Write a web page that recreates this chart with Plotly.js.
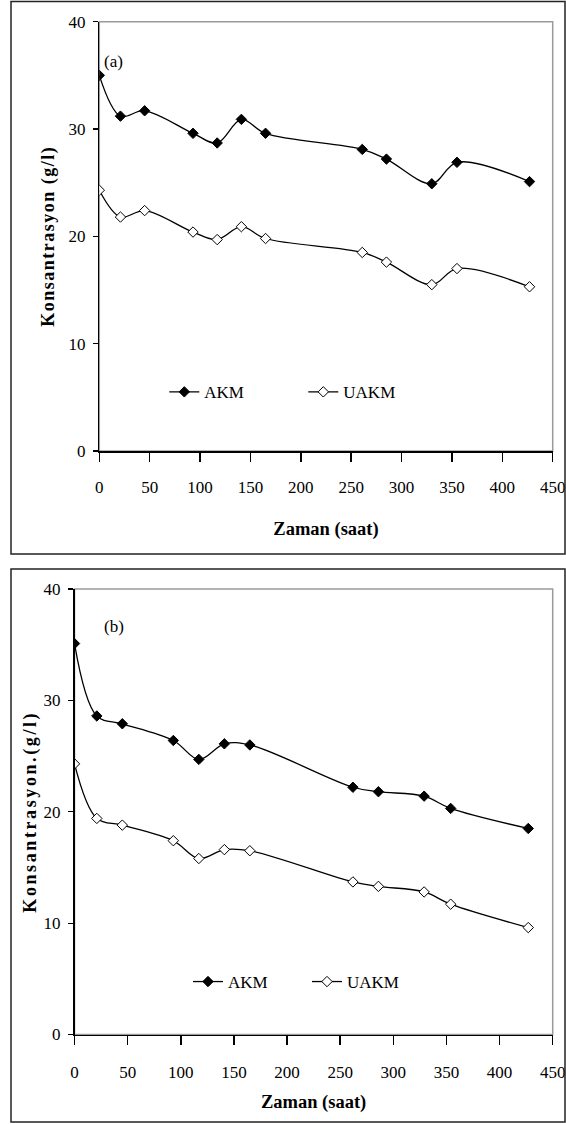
<!DOCTYPE html>
<html>
<head>
<meta charset="utf-8">
<script src="https://cdn.plot.ly/plotly-3.0.1.min.js"></script>
<style>
  html, body { margin: 0; padding: 0; background: #fff; }
  #chart { width: 566px; height: 1124px; }
  .ytitle { letter-spacing: 1.5px; }
  .y2title { letter-spacing: 2.6px; }
</style>
</head>
<body>
<div id="chart"></div>
<script>
// ---- data ----
var hoursA = [0, 21, 45, 93, 117, 141, 165, 261, 285, 330, 355, 427];
var akmA   = [35.0, 31.2, 31.7, 29.6, 28.7, 30.9, 29.6, 28.1, 27.2, 24.9, 26.9, 25.1];
var uakmA  = [24.3, 21.8, 22.4, 20.4, 19.7, 20.9, 19.8, 18.5, 17.6, 15.5, 17.0, 15.3];

var hoursB = [0, 21, 45, 93, 117, 141, 165, 262, 286, 329, 354, 427];
var akmB   = [35.1, 28.6, 27.9, 26.4, 24.7, 26.1, 26.0, 22.2, 21.8, 21.4, 20.3, 18.5];
var uakmB  = [24.3, 19.4, 18.8, 17.4, 15.8, 16.6, 16.5, 13.7, 13.3, 12.8, 11.7, 9.6];

var seriesNames = ['AKM', 'UAKM'];
var panelLabels = ['(a)', '(b)'];
var xTitle = 'Zaman (saat)';
var yTitleA = 'Konsantrasyon (g/l)';
var yTitleB = 'Konsantrasyon.(g/l)';

// ---- styling ----
var W = 566, H = 1124;
var serif = 'Liberation Serif';
function px(x) { return x / W; }
function py(y) { return 1 - y / H; }

var lineStyle = { color: '#000', width: 1.3, shape: 'spline', smoothing: 1 };
var filledMarker = { symbol: 'diamond', size: 8, color: '#000', line: { color: '#000', width: 1 } };
var openMarker = { symbol: 'diamond', size: 8, color: '#fff', line: { color: '#000', width: 1 } };

var traces = [
  { x: hoursA, y: akmA, name: seriesNames[0], mode: 'lines+markers', line: lineStyle, marker: filledMarker,
    xaxis: 'x', yaxis: 'y', legend: 'legend' },
  { x: hoursA, y: uakmA, name: seriesNames[1], mode: 'lines+markers', line: lineStyle, marker: openMarker,
    xaxis: 'x', yaxis: 'y', legend: 'legend' },
  { x: hoursB, y: akmB, name: seriesNames[0], mode: 'lines+markers', line: lineStyle, marker: filledMarker,
    xaxis: 'x2', yaxis: 'y2', legend: 'legend2' },
  { x: hoursB, y: uakmB, name: seriesNames[1], mode: 'lines+markers', line: lineStyle, marker: openMarker,
    xaxis: 'x2', yaxis: 'y2', legend: 'legend2' }
];

function xAxis(domain, anchor, standoffLabels, standoffTitle) {
  return {
    domain: domain, anchor: anchor, range: [0, 450], dtick: 50, tick0: 0,
    showgrid: false, zeroline: false, showline: true, linecolor: '#000', linewidth: 1.5,
    ticks: 'outside', ticklen: 9, tickwidth: 1.5, tickcolor: '#000',
    ticklabelstandoff: standoffLabels,
    tickfont: { family: serif, size: 17, color: '#000' },
    title: { text: xTitle, standoff: standoffTitle, font: { family: serif, size: 18.5, color: '#000', weight: 'bold' } },
    fixedrange: true
  };
}
function yAxis(domain, anchor, title, standoffTitle) {
  return {
    domain: domain, anchor: anchor, range: [0, 40], dtick: 10, tick0: 0,
    showgrid: false, zeroline: false, showline: true, linecolor: '#000', linewidth: 1.5,
    ticks: 'outside', ticklen: 5, tickwidth: 1.2, tickcolor: '#000',
    ticklabelstandoff: 4,
    tickfont: { family: serif, size: 17, color: '#000' },
    title: { text: title, standoff: standoffTitle, font: { family: serif, size: 18, color: '#000', weight: 'bold' } },
    fixedrange: true
  };
}

var layout = {
  width: W, height: H,
  margin: { l: 0, r: 0, t: 0, b: 0 },
  paper_bgcolor: '#fff', plot_bgcolor: '#fff',
  font: { family: serif, size: 17, color: '#000' },
  showlegend: true,
  xaxis: xAxis([px(99.3), px(552.7)], 'y', 11, 26),
  yaxis: yAxis([py(451), py(21.7)], 'x', yTitleA, 9),
  xaxis2: xAxis([px(74.5), px(552.7)], 'y2', 13, 13),
  yaxis2: yAxis([py(1034.5), py(589)], 'x2', yTitleB, 2),
  legend: {
    orientation: 'h', x: px(164.3), xanchor: 'left', y: py(392.3), yanchor: 'middle',
    entrywidth: 94, entrywidthmode: 'pixels', bgcolor: 'rgba(0,0,0,0)', borderwidth: 0,
    font: { family: serif, size: 17, color: '#000' }, itemclick: false, itemdoubleclick: false
  },
  legend2: {
    orientation: 'h', x: px(188), xanchor: 'left', y: py(982), yanchor: 'middle',
    entrywidth: 74, entrywidthmode: 'pixels', bgcolor: 'rgba(0,0,0,0)', borderwidth: 0,
    font: { family: serif, size: 17, color: '#000' }, itemclick: false, itemdoubleclick: false
  },
  annotations: [
    { text: panelLabels[0], xref: 'paper', yref: 'paper', x: px(102), y: py(62), xanchor: 'left', yanchor: 'middle',
      showarrow: false, font: { family: serif, size: 17, color: '#000' } },
    { text: panelLabels[1], xref: 'paper', yref: 'paper', x: px(102), y: py(626), xanchor: 'left', yanchor: 'middle',
      showarrow: false, font: { family: serif, size: 17, color: '#000' } }
  ],
  shapes: [
    { type: 'rect', xref: 'x domain', yref: 'y domain', x0: 0, x1: 1, y0: 0, y1: 1,
      line: { color: '#9a9a9a', width: 1.5 }, layer: 'below' },
    { type: 'rect', xref: 'x2 domain', yref: 'y2 domain', x0: 0, x1: 1, y0: 0, y1: 1,
      line: { color: '#9a9a9a', width: 1.5 }, layer: 'below' },
    { type: 'rect', xref: 'paper', yref: 'paper', x0: px(11), x1: px(565), y0: py(554), y1: py(1.5),
      line: { color: '#222', width: 1.5 } },
    { type: 'rect', xref: 'paper', yref: 'paper', x0: px(11), x1: px(565), y0: py(1122), y1: py(569),
      line: { color: '#222', width: 1.5 } }
  ]
};

Plotly.newPlot('chart', traces, layout, { staticPlot: true, displayModeBar: false });
</script>
</body>
</html>
